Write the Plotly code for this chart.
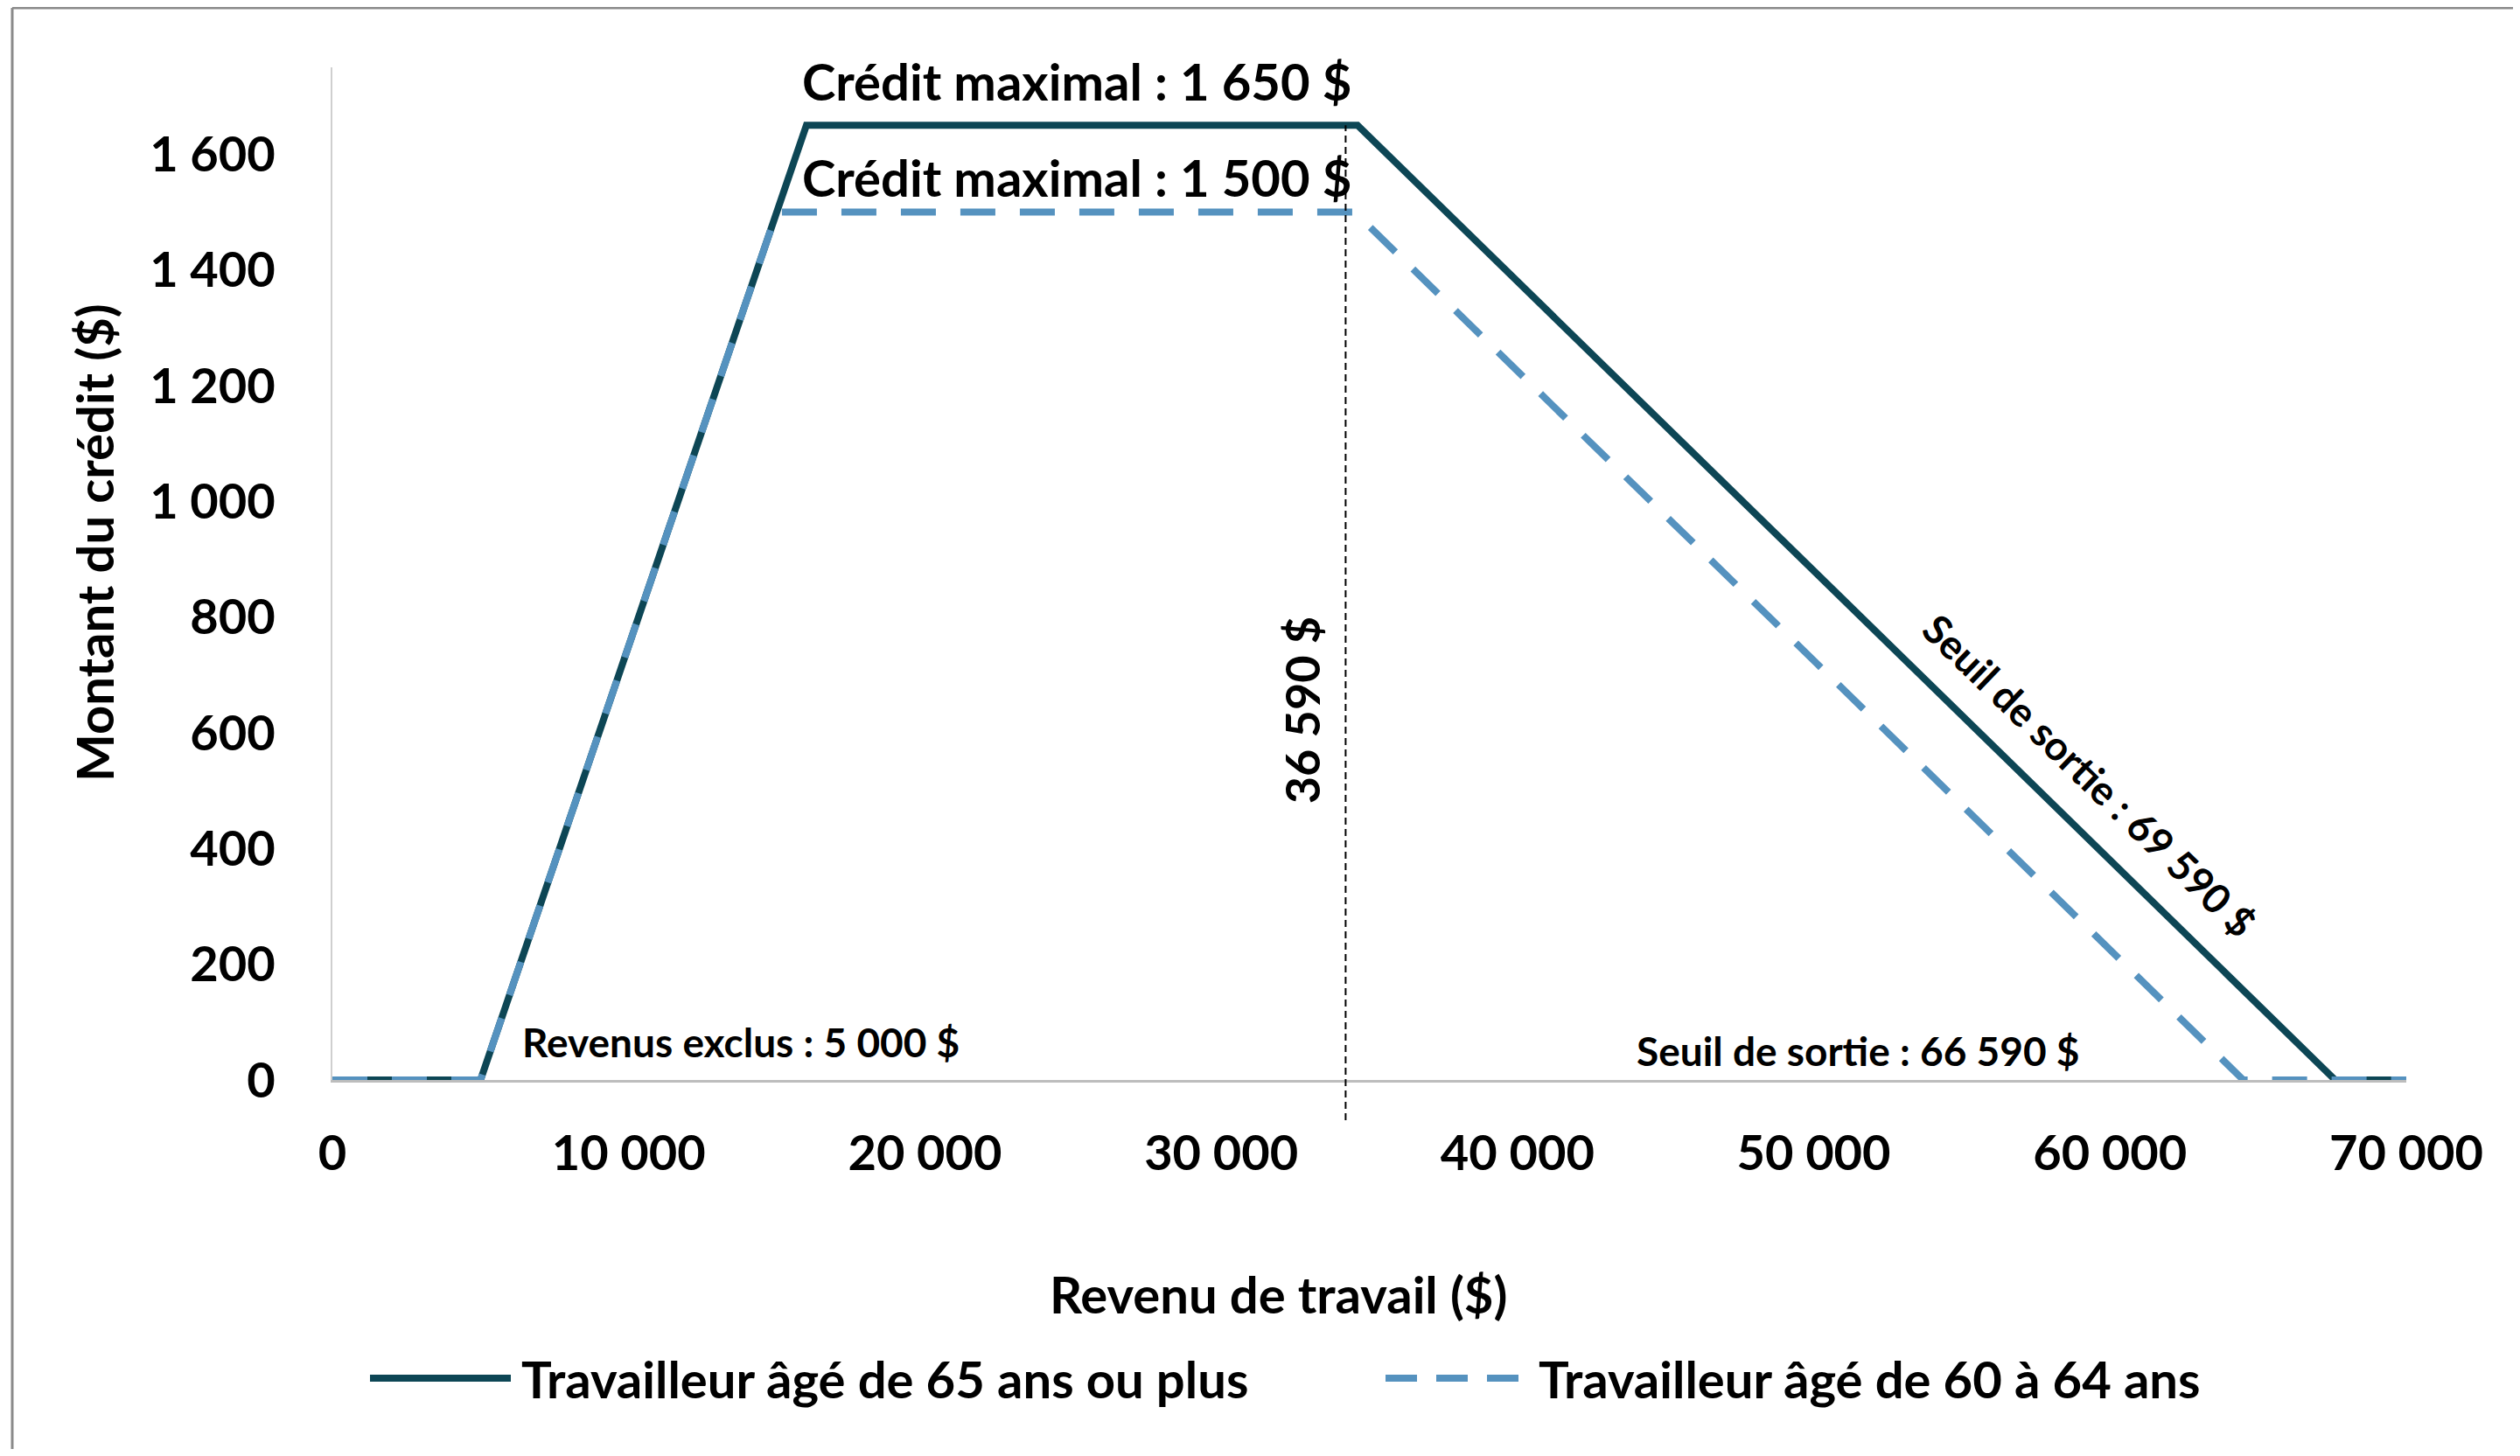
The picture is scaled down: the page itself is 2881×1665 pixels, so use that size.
import plotly.graph_objects as go

# ---- Data ----
revenu_65 = [0, 5000, 16000, 34600, 67600, 70000]
credit_65 = [0, 0, 1650, 1650, 0, 0]
revenu_60 = [0, 5000, 15000, 34500, 64500, 70000]
credit_60 = [0, 0, 1500, 1500, 0, 0]
seuil_x = 34200

x_tickvals = [0, 10000, 20000, 30000, 40000, 50000, 60000, 70000]
x_ticktext = ["0", "10 000", "20 000", "30 000", "40 000", "50 000", "60 000", "70 000"]
y_tickvals = [0, 200, 400, 600, 800, 1000, 1200, 1400, 1600]
y_ticktext = ["0", "200", "400", "600", "800", "1 000", "1 200", "1 400", "1 600"]

serie_65 = "Travailleur âgé de 65 ans ou plus"
serie_60 = "Travailleur âgé de 60 à 64 ans"

COL_65 = "#0d4655"
COL_60 = "#5592bf"
FONT = "Lato, 'Open Sans', sans-serif"

OFF = 8  # page body margin
W, H = 2881 - 2 * OFF, 1665 - 2 * OFF
L, R, T, B = 372, 122, 69, 422
pw = W - L - R
ph = H - T - B


def px2paper_x(page_x):
    return (page_x - OFF - L) / pw


def px2paper_y(page_y):
    return (OFF + T + ph - page_y) / ph


fig = go.Figure()
fig.add_trace(go.Scatter(x=revenu_65, y=credit_65, mode="lines", name=serie_65,
                         line=dict(color=COL_65, width=8), showlegend=False))
fig.add_trace(go.Scatter(x=revenu_60, y=credit_60, mode="lines", name=serie_60,
                         line=dict(color=COL_60, width=8, dash="40px,28px"), showlegend=False))

shapes = []
# vertical dotted line at the threshold
shapes.append(dict(type="line", xref="x", yref="paper", x0=seuil_x, x1=seuil_x,
                   y0=px2paper_y(1281), y1=1650 / 1750,
                   line=dict(color="black", width=2, dash="8px,5px"), layer="above"))
# outer frame (left and top)
shapes.append(dict(type="line", xref="paper", yref="paper",
                   x0=px2paper_x(14), x1=px2paper_x(14), y0=px2paper_y(1700), y1=px2paper_y(9),
                   line=dict(color="#8a8a8a", width=3)))
shapes.append(dict(type="line", xref="paper", yref="paper",
                   x0=px2paper_x(14), x1=px2paper_x(2900), y0=px2paper_y(9), y1=px2paper_y(9),
                   line=dict(color="#8a8a8a", width=3)))
# legend samples
leg_y = px2paper_y(1576)
shapes.append(dict(type="line", xref="paper", yref="paper",
                   x0=px2paper_x(423), x1=px2paper_x(584), y0=leg_y, y1=leg_y,
                   line=dict(color=COL_65, width=8)))
shapes.append(dict(type="line", xref="paper", yref="paper",
                   x0=px2paper_x(1584), x1=px2paper_x(1746), y0=leg_y, y1=leg_y,
                   line=dict(color=COL_60, width=8, dash="36px,22px")))

big = dict(family=FONT, size=58, color="black")
tick = dict(family=FONT, size=56, color="black")
small = dict(family=FONT, size=46, color="black")

annotations = [
    dict(x=15800, y=1727, xref="x", yref="y", text="<b>Crédit maximal : 1 650 $</b>",
         showarrow=False, xanchor="left", yanchor="middle", font=big),
    dict(x=15800, y=1561, xref="x", yref="y", text="<b>Crédit maximal : 1 500 $</b>",
         showarrow=False, xanchor="left", yanchor="middle", font=big),
    dict(x=6350, y=66, xref="x", yref="y", text="<b>Revenus exclus : 5 000 $</b>",
         showarrow=False, xanchor="left", yanchor="middle", font=small),
    dict(x=51490, y=50, xref="x", yref="y", text="<b>Seuil de sortie : 66 590 $</b>",
         showarrow=False, xanchor="center", yanchor="middle", font=small),
    dict(x=59315, y=527, xref="x", yref="y", text="<b>Seuil de sortie : 69 590 $</b>",
         showarrow=False, textangle=44, xanchor="center", yanchor="middle", font=small),
    dict(x=32713, y=639, xref="x", yref="y", text="<b>36 590 $</b>",
         showarrow=False, textangle=-90, xanchor="center", yanchor="middle",
         font=dict(family=FONT, size=54, color="black")),
    dict(x=px2paper_x(1461), y=px2paper_y(1479), xref="paper", yref="paper",
         text="<b>Revenu de travail ($)</b>", showarrow=False,
         xanchor="center", yanchor="middle", font=big),
    dict(x=px2paper_x(107), y=px2paper_y(621), xref="paper", yref="paper",
         text="<b>Montant du crédit ($)</b>", showarrow=False, textangle=-90,
         xanchor="center", yanchor="middle", font=big),
    dict(x=px2paper_x(594), y=leg_y, xref="paper", yref="paper",
         text="<b>" + serie_65 + "</b>", showarrow=False,
         xanchor="left", yanchor="middle", font=big),
    dict(x=px2paper_x(1757), y=leg_y, xref="paper", yref="paper",
         text="<b>" + serie_60 + "</b>", showarrow=False,
         xanchor="left", yanchor="middle", font=big),
]

fig.update_layout(
    width=W, height=H,
    margin=dict(l=L, r=R, t=T, b=B, pad=0),
    paper_bgcolor="white", plot_bgcolor="white",
    shapes=shapes, annotations=annotations,
    showlegend=False,
    font=dict(family=FONT, color="black"),
)
fig.update_xaxes(range=[0, 70000], tickvals=x_tickvals, ticktext=["<b>%s</b>" % t for t in x_ticktext],
                 tickfont=tick, showgrid=False, zeroline=False,
                 showline=True, linecolor="#bdbdbd", linewidth=3,
                 ticks="", ticklabelstandoff=33)
fig.update_yaxes(range=[0, 1750], tickvals=y_tickvals, ticktext=["<b>%s</b>" % t for t in y_ticktext],
                 tickfont=tick, showgrid=False, zeroline=False,
                 showline=True, linecolor="#cfcfcf", linewidth=2,
                 ticks="", ticklabelstandoff=52)

fig.write_html("out.html")
